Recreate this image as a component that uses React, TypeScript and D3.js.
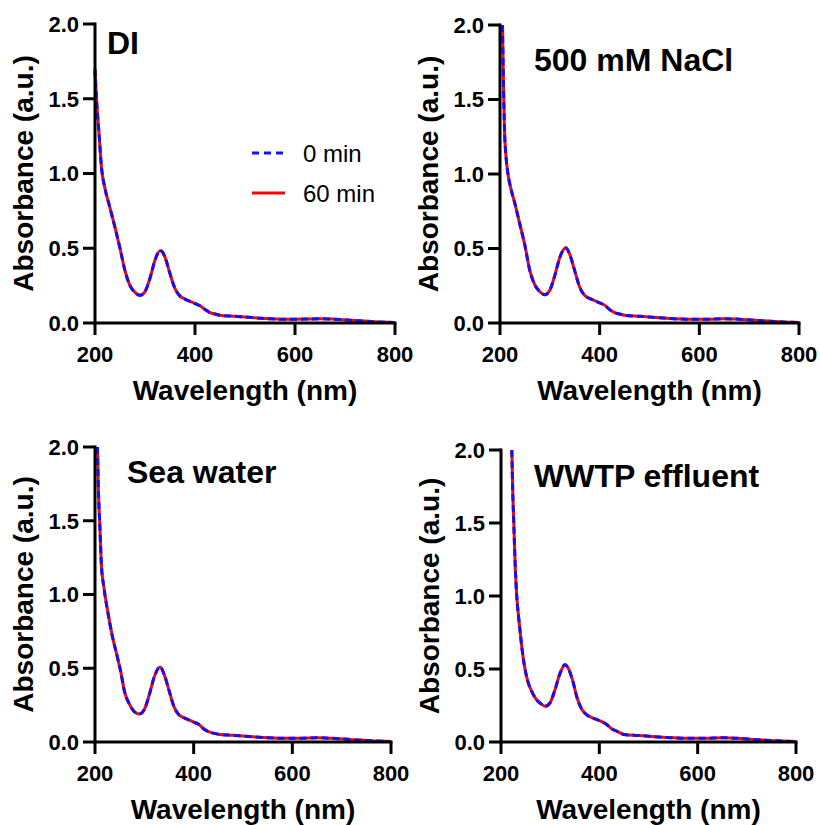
import React from "react";
import * as d3 from "d3";

// ---- Data (wavelength nm, absorbance a.u.) ----
const tailWl = [450, 480, 500, 540, 580, 620, 650, 680, 720, 760, 800];
const tailAbs = [0.052, 0.045, 0.04, 0.03, 0.025, 0.026, 0.029, 0.025, 0.016, 0.008, 0.003];

const diWl = [200, 203, 208, 213, 220, 230, 240, 250, 260, 270, 280, 290, 300, 310, 320, 330, 335, 340, 350, 360, 370, 380, 390, 400, 410, 420, 430, 440, ...tailWl];
const diAbs0 = [1.70, 1.50, 1.27, 1.04, 0.90, 0.77, 0.64, 0.50, 0.35, 0.25, 0.205, 0.185, 0.21, 0.30, 0.42, 0.485, 0.475, 0.44, 0.33, 0.23, 0.18, 0.16, 0.145, 0.13, 0.115, 0.09, 0.07, 0.06, ...tailAbs];
const diAbs60 = [1.68, 1.50, 1.27, 1.04, 0.90, 0.77, 0.64, 0.50, 0.35, 0.25, 0.205, 0.185, 0.21, 0.30, 0.42, 0.484, 0.474, 0.44, 0.33, 0.23, 0.18, 0.16, 0.145, 0.13, 0.115, 0.09, 0.07, 0.06, ...tailAbs];

const naclWl = [205, 207, 209, 212, 216, 222, 230, 240, 250, 260, 270, 280, 290, 300, 310, 320, 332, 340, 350, 360, 370, 380, 390, 400, 410, 420, 430, 440, ...tailWl];
const naclAbs0 = [2.0, 1.6, 1.3, 1.12, 1.0, 0.9, 0.8, 0.66, 0.52, 0.35, 0.255, 0.21, 0.19, 0.22, 0.32, 0.44, 0.505, 0.46, 0.35, 0.24, 0.185, 0.165, 0.15, 0.135, 0.12, 0.09, 0.07, 0.06, ...tailAbs];
const naclAbs60 = [2.0, 1.6, 1.3, 1.12, 1.0, 0.9, 0.8, 0.66, 0.52, 0.35, 0.255, 0.21, 0.19, 0.22, 0.32, 0.44, 0.503, 0.46, 0.35, 0.24, 0.185, 0.165, 0.15, 0.135, 0.12, 0.09, 0.07, 0.06, ...tailAbs];

const seaWl = [205, 207, 210, 213, 218, 225, 235, 245, 252, 260, 270, 280, 290, 300, 310, 320, 332, 340, 350, 360, 370, 380, 390, 400, 410, 420, 430, 440, ...tailWl];
const seaAbs0 = [2.0, 1.7, 1.45, 1.2, 1.05, 0.9, 0.72, 0.58, 0.48, 0.34, 0.255, 0.205, 0.19, 0.22, 0.32, 0.44, 0.51, 0.46, 0.35, 0.24, 0.185, 0.165, 0.15, 0.135, 0.12, 0.09, 0.07, 0.06, ...tailAbs];
const seaAbs60 = [2.0, 1.7, 1.45, 1.2, 1.05, 0.9, 0.72, 0.58, 0.48, 0.34, 0.255, 0.205, 0.19, 0.22, 0.32, 0.44, 0.508, 0.46, 0.35, 0.24, 0.185, 0.165, 0.15, 0.135, 0.12, 0.09, 0.07, 0.06, ...tailAbs];

const wwtpWl = [222, 224, 226, 229, 232, 236, 240, 245, 250, 255, 262, 272, 282, 290, 300, 310, 320, 330, 336, 345, 355, 365, 375, 390, 405, 415, 425, 435, ...tailWl];
const wwtpAbs0 = [2.0, 1.7, 1.5, 1.2, 1.0, 0.85, 0.72, 0.58, 0.48, 0.41, 0.35, 0.29, 0.26, 0.245, 0.27, 0.36, 0.47, 0.53, 0.51, 0.43, 0.30, 0.22, 0.185, 0.16, 0.14, 0.12, 0.09, 0.075, ...tailAbs];
const wwtpAbs60 = [2.0, 1.7, 1.5, 1.2, 1.0, 0.85, 0.72, 0.58, 0.48, 0.41, 0.35, 0.29, 0.26, 0.245, 0.27, 0.36, 0.47, 0.528, 0.51, 0.43, 0.30, 0.22, 0.185, 0.16, 0.14, 0.12, 0.09, 0.075, ...tailAbs];

const xTicks = [200, 400, 600, 800];
const yTicks = [0, 0.5, 1.0, 1.5, 2.0];
const panelTitles = ["DI", "500 mM NaCl", "Sea water", "WWTP effluent"];
const seriesNames = ["0 min", "60 min"];

// ---- Layout ----
const panels = [
  { wl: diWl, a0: diAbs0, a60: diAbs60, x0: 95, x1: 395, yTop: 24, yBot: 323, tx: 107, ty: 54, legend: true },
  { wl: naclWl, a0: naclAbs0, a60: naclAbs60, x0: 500, x1: 799, yTop: 25, yBot: 323, tx: 534, ty: 71, legend: false },
  { wl: seaWl, a0: seaAbs0, a60: seaAbs60, x0: 95, x1: 391, yTop: 447, yBot: 742, tx: 127, ty: 483, legend: false },
  { wl: wwtpWl, a0: wwtpAbs0, a60: wwtpAbs60, x0: 501, x1: 796, yTop: 450, yBot: 742, tx: 534, ty: 487, legend: false },
];

const FONT = "'Liberation Sans', Arial, Helvetica, sans-serif";
const BLUE = "#1010ff";
const RED = "#ff0000";

function Panel({ p, title }: { p: typeof panels[number]; title: string }) {
  const x = d3.scaleLinear().domain([200, 800]).range([p.x0, p.x1]);
  const y = d3.scaleLinear().domain([0, 2]).range([p.yBot, p.yTop]);
  const line = d3
    .line<[number, number]>()
    .x((d) => x(d[0]))
    .y((d) => y(d[1]))
    .curve(d3.curveMonotoneX);
  const d0 = line(p.wl.map((w, i) => [w, p.a0[i]] as [number, number])) || "";
  const d60 = line(p.wl.map((w, i) => [w, p.a60[i]] as [number, number])) || "";
  const tickLen = 11;
  const cy = (p.yTop + p.yBot) / 2;
  const cx = (p.x0 + p.x1) / 2;
  return (
    <g fontFamily={FONT}>
      <path d={d60} fill="none" stroke={RED} strokeWidth={3} />
      <path d={d0} fill="none" stroke={BLUE} strokeWidth={3} strokeDasharray="7 4" />
      {/* axes */}
      <line x1={p.x0} x2={p.x0} y1={p.yTop - 1.5} y2={p.yBot + 1.5} stroke="#000" strokeWidth={3} />
      <line x1={p.x0 - 1.5} x2={p.x1 + 1.5} y1={p.yBot} y2={p.yBot} stroke="#000" strokeWidth={3} />
      {xTicks.map((t) => (
        <g key={"x" + t}>
          <line x1={x(t)} x2={x(t)} y1={p.yBot} y2={p.yBot + tickLen + 1} stroke="#000" strokeWidth={3} />
          <text x={x(t)} y={p.yBot + 39} textAnchor="middle" fontSize={22} fontWeight="bold">
            {t}
          </text>
        </g>
      ))}
      {yTicks.map((t) => (
        <g key={"y" + t}>
          <line x1={p.x0 - tickLen - 1} x2={p.x0} y1={y(t)} y2={y(t)} stroke="#000" strokeWidth={3} />
          <text x={p.x0 - 16} y={y(t)} dy="0.36em" textAnchor="end" fontSize={22} fontWeight="bold">
            {t.toFixed(1)}
          </text>
        </g>
      ))}
      <text x={cx} y={p.yBot + 77} textAnchor="middle" fontSize={28} fontWeight="bold">
        Wavelength (nm)
      </text>
      <text
        transform={`translate(${p.x0 - 62},${cy}) rotate(-90)`}
        textAnchor="middle"
        fontSize={28}
        fontWeight="bold"
      >
        Absorbance (a.u.)
      </text>
      <text x={p.tx} y={p.ty} fontSize={32} fontWeight="bold">
        {title}
      </text>
      {p.legend && (
        <g>
          <line x1={252} x2={285} y1={153} y2={153} stroke={BLUE} strokeWidth={3} strokeDasharray="7 5" />
          <text x={303} y={153} dy="0.36em" fontSize={24}>
            {seriesNames[0]}
          </text>
          <line x1={252} x2={285} y1={193} y2={193} stroke={RED} strokeWidth={3} />
          <text x={303} y={193} dy="0.36em" fontSize={24}>
            {seriesNames[1]}
          </text>
        </g>
      )}
    </g>
  );
}

export default function App() {
  return (
    <svg
      width={820}
      height={825}
      style={{ position: "absolute", left: 0, top: 0, background: "#fff" }}
    >
      <rect width={820} height={825} fill="#fff" />
      {panels.map((p, i) => (
        <Panel key={i} p={p} title={panelTitles[i]} />
      ))}
    </svg>
  );
}
